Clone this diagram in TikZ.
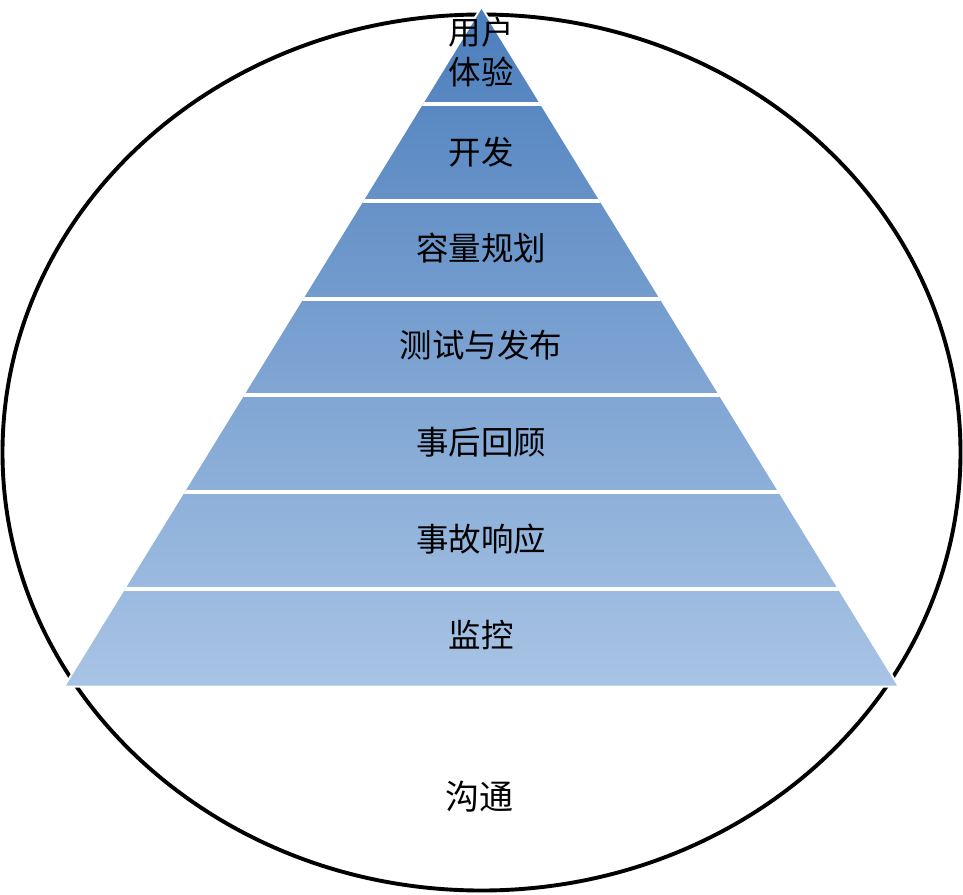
\documentclass[tikz,border=0pt]{standalone}
\usepackage{fontspec}
\newfontfamily\cjk{Noto Sans CJK SC}
\begin{document}
\begin{tikzpicture}[x=1pt,y=-1pt,
  lbl/.style={font=\cjk\fontsize{32.5}{40}\selectfont, text=black, inner sep=0pt, align=center},
  sep/.style={draw=white, line width=4pt}]
\useasboundingbox (0,0) rectangle (963,894);
\definecolor{ptop}{RGB}{76,126,188}
\definecolor{pbot}{RGB}{168,196,229}
% outer ellipse
\draw[line width=3.9pt] (481.5,452.5) ellipse [x radius=479, y radius=438];
% pyramid with white halo
\coordinate (apex) at (481.5,9);
\coordinate (bl) at (66,685.5);
\coordinate (br) at (897,685.5);
\draw[white, line width=4pt, line join=miter] (apex) -- (br) -- (bl) -- cycle;
\shade[top color=ptop, bottom color=pbot] (apex) -- (br) -- (bl) -- cycle;
% separators, kept inside the pyramid
\begin{scope}
\clip (apex) -- (br) -- (bl) -- cycle;
\foreach \yy in {103.5,200.5,298.5,395.3,492,588.7}{
  \draw[sep] (0,\yy) -- (963,\yy);
}
\end{scope}
% labels
\node[lbl] (ux) at (481,52) {用户\\体验};
\node[lbl] (dev) at (481,152) {开发};
\node[lbl] (cap) at (481,248) {容量规划};
\node[lbl] (test) at (481,345) {测试与发布};
\node[lbl] (pm) at (481,442) {事后回顾};
\node[lbl] (ir) at (481,539) {事故响应};
\node[lbl] (mon) at (481,635) {监控};
\node[lbl, font=\cjk\fontsize{34}{40}\selectfont] (comm) at (479,797) {沟通};
\end{tikzpicture}
\end{document}
